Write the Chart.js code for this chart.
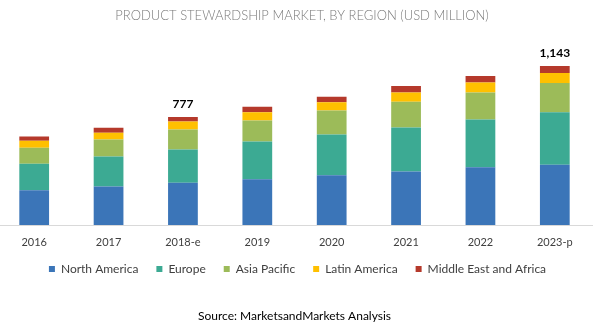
<!DOCTYPE html>
<html>
<head>
<meta charset="utf-8">
<script src="https://cdn.jsdelivr.net/npm/chart.js@4/dist/chart.umd.min.js"></script>
<style>
  html, body { margin: 0; padding: 0; background: #ffffff; }
  #wrap { position: relative; width: 599px; height: 327px; overflow: hidden; background: #ffffff; }
  #c { position: absolute; left: -3px; top: 0; }
</style>
</head>
<body>
<div id="wrap"><canvas id="c" width="604" height="327"></canvas></div>
<script>
const years = ['2016', '2017', '2018-e', '2019', '2020', '2021', '2022', '2023-p'];
const northAmerica = [250, 276, 304, 329, 358, 384, 415, 433];
const europe = [190, 216, 238, 271, 292, 317, 343, 377];
const asiaPacific = [115, 122, 144, 151, 173, 185, 194, 211];
const latinAmerica = [50, 50, 58, 60, 60, 67, 72, 72];
const middleEastAfrica = [32, 36, 33, 40, 40, 46, 48, 50];
const totalLabels = ['', '', '777', '', '', '', '', '1,143'];
const seriesNames = ['North America', 'Europe', 'Asia Pacific', 'Latin America', 'Middle East and Africa'];
const titleText = 'PRODUCT STEWARDSHIP MARKET, BY REGION (USD MILLION)';
const sourceText = 'Source: MarketsandMarkets Analysis';

const colors = ['#3B75B8', '#3CAA93', '#9CBB59', '#FFC000', '#B5392B'];
const seriesData = [northAmerica, europe, asiaPacific, latinAmerica, middleEastAfrica];

const totalsPlugin = {
  id: 'totals',
  afterDatasetsDraw(chart) {
    const ctx = chart.ctx;
    const topMeta = chart.getDatasetMeta(chart.data.datasets.length - 1);
    ctx.save();
    ctx.font = 'bold 12px Lato';
    ctx.fillStyle = '#000000';
    ctx.textAlign = 'center';
    ctx.textBaseline = 'middle';
    totalLabels.forEach((t, i) => {
      if (!t) return;
      const bar = topMeta.data[i];
      ctx.fillText(t, bar.x, bar.y - 13);
    });
    ctx.restore();
  }
};

const titlePlugin = {
  id: 'chartTitle',
  afterDraw(chart) {
    const ctx = chart.ctx;
    ctx.save();
    ctx.font = '300 13px Lato';
    ctx.fillStyle = '#7a7a7a';
    ctx.textAlign = 'center';
    ctx.textBaseline = 'middle';
    ctx.fillText(titleText, 305, 16);
    ctx.restore();
  }
};

// place the legend row at its position below the axis labels
const legendPlacePlugin = {
  id: 'legendPlace',
  afterLayout(chart) {
    const lg = chart.legend;
    if (!lg) return;
    const h = lg.bottom - lg.top;
    const pad = lg.options.labels.padding;
    const top = 269 - pad - 6;
    lg.top = top;
    lg.bottom = top + h;
    lg.left += 3;
    lg.right += 3;
  }
};

new Chart(document.getElementById('c'), {
  type: 'bar',
  data: {
    labels: years,
    datasets: seriesData.map((d, i) => ({
      label: seriesNames[i],
      data: d,
      backgroundColor: colors[i],
      borderWidth: 0,
      barPercentage: 0.4,
      categoryPercentage: 1.0
    }))
  },
  options: {
    responsive: false,
    devicePixelRatio: 1,
    animation: false,
    layout: { padding: { left: 0, right: 9, top: 44.2, bottom: 0 } },
    scales: {
      x: {
        stacked: true,
        grid: { display: false, drawTicks: false },
        border: { display: true, color: '#d9d9d9', width: 1 },
        ticks: { color: '#404040', font: { family: 'Lato', size: 11 }, padding: 10.4, maxRotation: 0 }
      },
      y: {
        stacked: true,
        display: false,
        min: 0,
        max: 1300
      }
    },
    plugins: {
      title: { display: false },
      subtitle: {
        display: true,
        position: 'bottom',
        fullSize: false,
        text: sourceText,
        color: '#000000',
        font: { family: 'Lato', size: 12, weight: 'normal' },
        padding: { top: 9.8, bottom: 3.8 }
      },
      legend: {
        position: 'bottom',
        labels: {
          boxWidth: 6,
          boxHeight: 6,
          padding: 18,
          color: '#404040',
          font: { family: 'Lato', size: 12 }
        }
      },
      tooltip: { enabled: false }
    }
  },
  plugins: [totalsPlugin, titlePlugin, legendPlacePlugin]
});
</script>
</body>
</html>
